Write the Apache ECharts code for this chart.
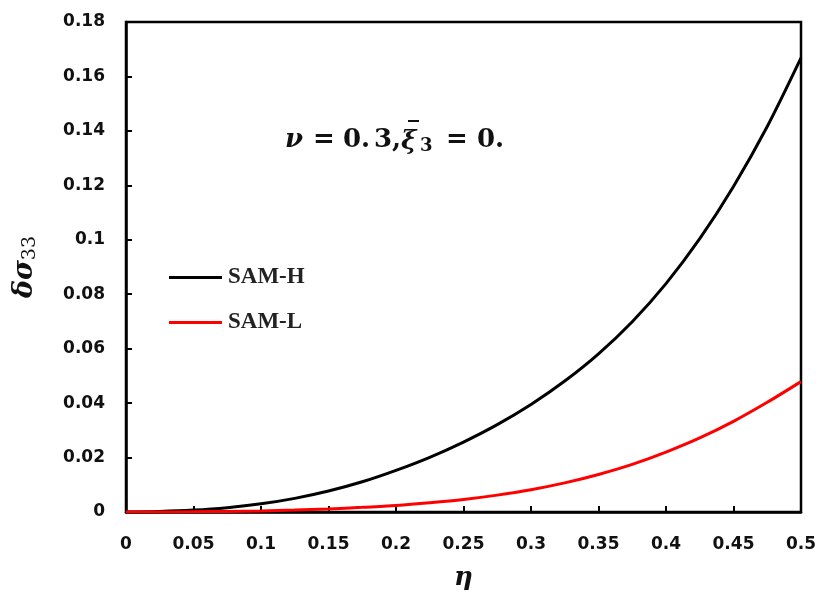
<!DOCTYPE html>
<html>
<head>
<meta charset="utf-8">
<script src="https://cdn.jsdelivr.net/npm/echarts@6/dist/echarts.min.js"></script>
<style>html,body{margin:0;padding:0;background:#fff}#c{width:821px;height:592px}</style>
</head>
<body>
<div id="c"></div>
<script>
const eta = [0,0.025,0.05,0.075,0.1,0.125,0.15,0.175,0.2,0.225,0.25,0.275,0.3,0.325,0.35,0.375,0.4,0.425,0.45,0.475,0.5];
const samH = [0,0.0002,0.0007,0.0016,0.0030,0.0050,0.0077,0.0111,0.0153,0.0201,0.0257,0.0321,0.0395,0.0481,0.0581,0.0699,0.0839,0.1004,0.1196,0.1416,0.1668];
const samL = [0,0,0.0001,0.0002,0.0004,0.0007,0.0011,0.0017,0.0024,0.0034,0.0046,0.0062,0.0082,0.0107,0.0138,0.0175,0.0220,0.0272,0.0333,0.0403,0.0479];
const seriesNames = ['SAM-H','SAM-L'];

const chart = echarts.init(document.getElementById('c'));
const tickFont = {fontFamily:'DejaVu Sans', fontWeight:'bold', fontSize:17, color:'#111'};
const mathBold = {fontFamily:'DejaVu Serif', fontWeight:'bold', fontSize:26, fill:'#111', verticalAlign:'middle'};
const mathItal = Object.assign({}, mathBold, {fontStyle:'italic'});
chart.setOption({
  animation:false,
  backgroundColor:'#fff',
  grid:{left:126, right:20, top:22, bottom:80, show:true, borderColor:'#000', borderWidth:2.5,
        containLabel:false, outerBoundsMode:'none'},
  legend:{
    orient:'vertical', left:169, top:266, padding:0, itemGap:22, icon:'rect', itemWidth:53, itemHeight:3,
    textStyle:{fontFamily:'Liberation Serif', fontWeight:'bold', fontSize:23, color:'#222', padding:[0,0,0,1]},
    data:seriesNames
  },
  xAxis:{
    type:'value', min:0, max:0.5, interval:0.05,
    name:'η', nameLocation:'middle', nameGap:53,
    nameTextStyle:{fontFamily:'DejaVu Serif', fontStyle:'italic', fontWeight:'bold', fontSize:26, color:'#111'},
    axisLine:{lineStyle:{color:'#000', width:2.5}},
    axisTick:{inside:true, length:6, lineStyle:{color:'#000', width:2}},
    axisLabel:Object.assign({margin:24}, tickFont),
    splitLine:{show:false}
  },
  yAxis:{
    type:'value', min:0, max:0.18, interval:0.02,
    name:'{a|δσ}{b|33}', nameLocation:'middle', nameGap:86,
    nameTextStyle:{rich:{
      a:{fontFamily:'DejaVu Serif', fontStyle:'italic', fontWeight:'bold', fontSize:27, color:'#111'},
      b:{fontFamily:'DejaVu Serif', fontSize:19, color:'#111', padding:[12,0,0,0]}
    }},
    axisLine:{lineStyle:{color:'#000', width:2.5}},
    axisTick:{inside:true, length:6, lineStyle:{color:'#000', width:2}},
    axisLabel:Object.assign({margin:21}, tickFont),
    splitLine:{show:false}
  },
  series:[
    {name:seriesNames[0], type:'line', smooth:0.3, showSymbol:false, symbol:'none',
     lineStyle:{color:'#000', width:3}, itemStyle:{color:'#000'},
     data:eta.map((x,i)=>[x,samH[i]])},
    {name:seriesNames[1], type:'line', smooth:0.3, showSymbol:false, symbol:'none',
     lineStyle:{color:'#ff0000', width:3}, itemStyle:{color:'#ff0000'},
     data:eta.map((x,i)=>[x,samL[i]])}
  ],
  graphic:[
    {type:'text', x:285, y:140, style:Object.assign({text:'ν'}, mathItal)},
    {type:'text', x:313, y:140, style:Object.assign({text:'='}, mathBold)},
    {type:'text', x:343, y:140, style:Object.assign({text:'0.'}, mathBold)},
    {type:'text', x:374, y:140, style:Object.assign({text:'3,'}, mathBold)},
    {type:'text', x:401, y:142, style:Object.assign({text:'ξ'}, mathItal)},
    {type:'line', shape:{x1:408, y1:121, x2:419, y2:121}, style:{stroke:'#111', lineWidth:2}},
    {type:'text', x:420, y:146, style:Object.assign({text:'3'}, mathBold, {fontSize:18})},
    {type:'text', x:446, y:140, style:Object.assign({text:'='}, mathBold)},
    {type:'text', x:477, y:140, style:Object.assign({text:'0.'}, mathBold)}
  ]
});
</script>
</body>
</html>
